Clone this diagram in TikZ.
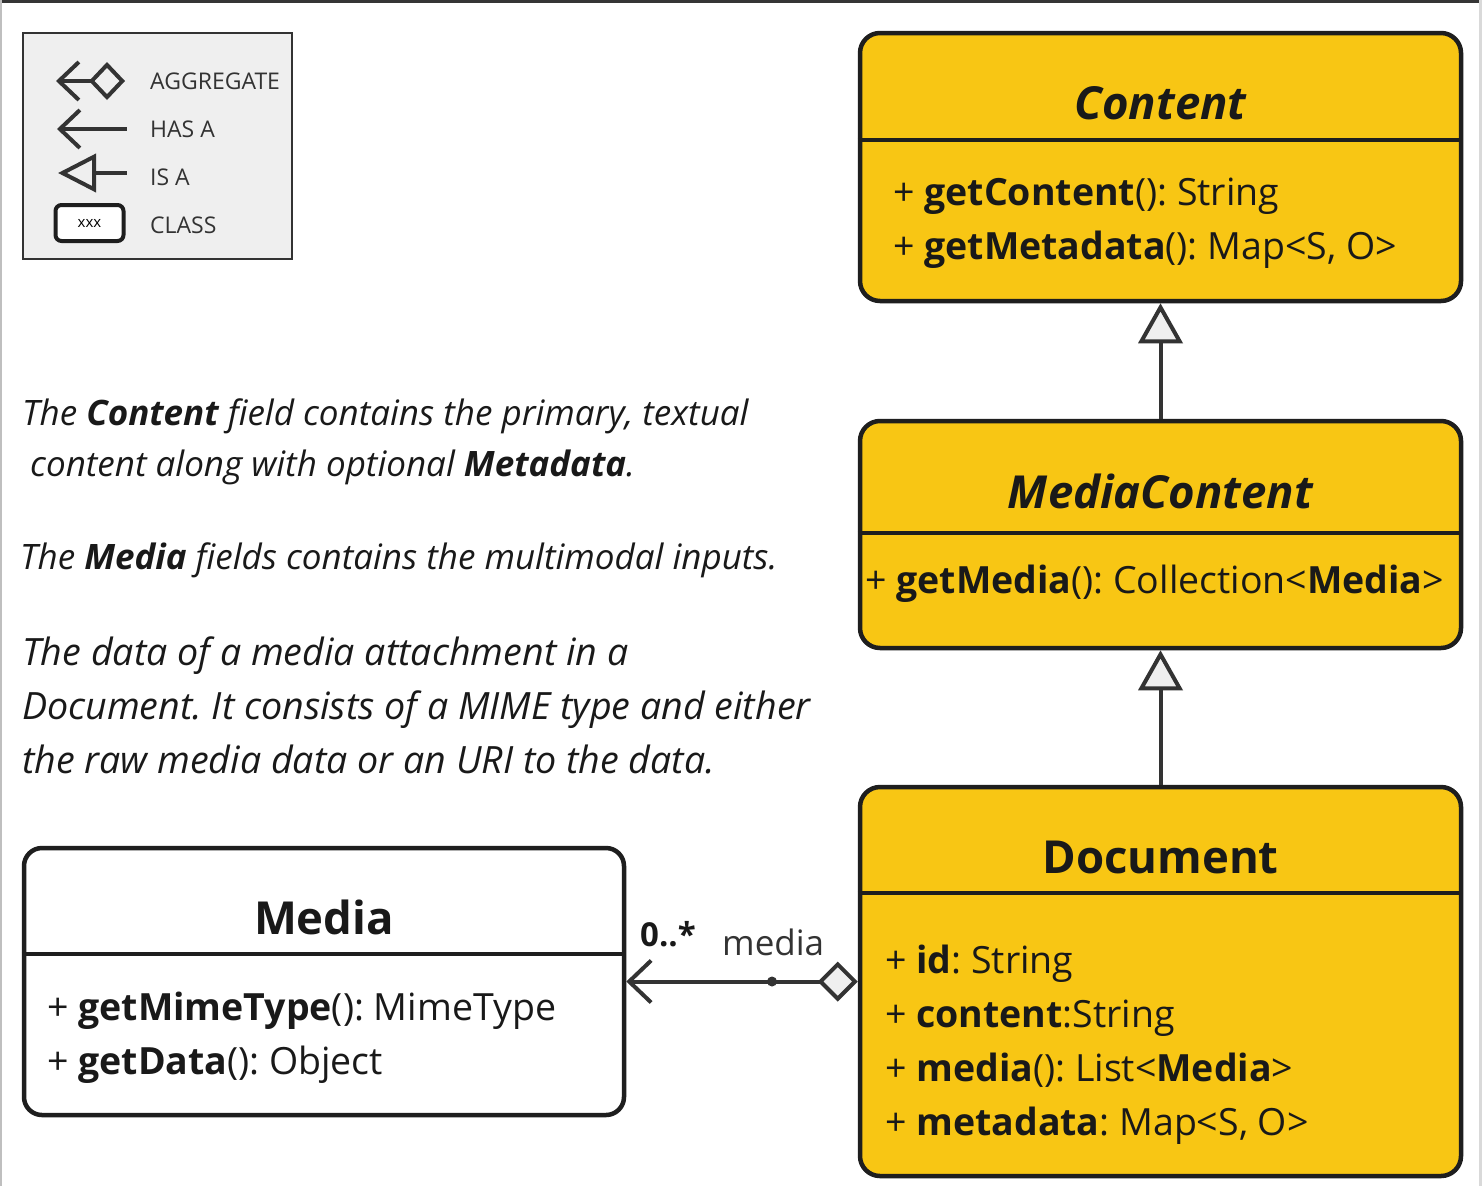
\documentclass[tikz,border=0pt]{standalone}
\usepackage{fontspec}
\setmainfont{Open Sans}
\usetikzlibrary{arrows.meta}
\definecolor{yel}{RGB}{248,198,20}
\definecolor{ink}{RGB}{30,30,30}
\definecolor{lnk}{RGB}{51,51,51}
\definecolor{lg}{RGB}{239,239,239}
\definecolor{txt}{RGB}{25,25,25}
\frenchspacing
\begin{document}
\frenchspacing
\begin{tikzpicture}[x=1pt,y=-1pt,
  classbox/.style={draw=ink, line width=4.5pt, rounded corners=20pt, fill=yel, inner sep=0},
  divider/.style={draw=ink, line width=4.5pt},
  ttl/.style={font=\fontsize{45.5}{52}\selectfont\bfseries, text=txt, anchor=base, inner sep=0},
  mem/.style={font=\fontsize{37.5}{43}\selectfont, text=txt, anchor=base west, inner sep=0},
  para/.style={font=\fontsize{35}{42}\selectfont\itshape, text=txt, anchor=base west, inner sep=0},
  parb/.style={font=\fontsize{37.6}{44}\selectfont\itshape, text=txt, anchor=base west, inner sep=0},
  leg/.style={font=\fontsize{23}{27}\selectfont, text=lnk, anchor=base west, inner sep=0},
  legline/.style={draw=lnk, line width=4pt},
  isa/.style={draw=lnk, line width=4pt, -{Triangle[length=40pt,width=44pt,fill=lg]}},
  agg/.style={draw=lnk, line width=4pt, {Straight Barb[length=22pt,width=42pt]}-{Diamond[length=40pt,width=40pt,fill=lg]}},
  dot/.style={circle, fill=lnk, inner sep=0, minimum size=10pt}
]
\useasboundingbox (0,0) rectangle (1482,1186);
\fill[white] (0,0) rectangle (1482,1186);
\fill[ink!90] (0,0) rectangle (1482,3);
\fill[gray!50] (0,0) rectangle (2,1186);
\fill[gray!30] (1479,0) rectangle (1482,1186);

% legend
\node[draw=lnk, line width=2pt, fill=lg, minimum width=269pt, minimum height=226pt, inner sep=0] (legend) at (157.5,146) {};
\coordinate (la1) at (56,81); \coordinate (la2) at (125,81);
\draw[legline, {Straight Barb[length=20pt,width=38pt]}-{Diamond[length=36pt,width=38pt,fill=lg]}] (la1) -- (la2);
\coordinate (lh1) at (57,129); \coordinate (lh2) at (127,129);
\draw[legline, {Straight Barb[length=20pt,width=38pt]}-] (lh1) -- (lh2);
\coordinate (li1) at (58,173); \coordinate (li2) at (127,173);
\draw[legline, {Triangle[length=38pt,width=38pt,fill=lg]}-] (li1) -- (li2);
\node[draw=ink, line width=4pt, rounded corners=6pt, fill=white, minimum width=68pt, minimum height=36pt, inner sep=0, font=\fontsize{15}{18}\selectfont] (lc) at (89.5,223) {xxx};
\node[leg] (lt1) at (150,89) {AGGREGATE};
\node[leg] (lt2) at (150,137) {HAS A};
\node[leg] (lt3) at (150,185) {IS A};
\node[leg] (lt4) at (150,233) {CLASS};

% paragraphs
\node[para] (p1) at (22,425) {The \textbf{Content} field contains the primary, textual};
\node[para] (p2) at (30,476) {content along with optional \textbf{Metadata}.};
\node[para] (p3) at (20,569) {The \textbf{Media} fields contains the multimodal inputs.};
\node[parb] (p4) at (22,665) {The data of a media attachment in a};
\node[parb] (p5) at (22,719) {Document. It consists of a MIME type and either};
\node[parb] (p6) at (22,773) {the raw media data or an URI to the data.};

% Content
\node[classbox, minimum width=601pt, minimum height=268pt] (content) at (1160.5,167) {};
\draw[divider] (content.west |- 0,140) -- (content.east |- 0,140);
\node[ttl, font=\fontsize{45.5}{52}\selectfont\bfseries\itshape] (contentT) at (1160.5,119) {Content};
\node[mem] (c1) at (893,205) {+ \textbf{getContent}(): String};
\node[mem] (c2) at (893,259) {+ \textbf{getMetadata}(): Map<S, O>};

% MediaContent
\node[classbox, minimum width=601pt, minimum height=227pt] (mediacontent) at (1160.5,534.5) {};
\draw[divider] (mediacontent.west |- 0,533) -- (mediacontent.east |- 0,533);
\node[ttl, font=\fontsize{45.5}{52}\selectfont\bfseries\itshape] (mcT) at (1160.5,508) {MediaContent};
\node[mem] (mc1) at (865,593) {+ \textbf{getMedia}(): Collection<\textbf{Media}>};

% Document
\node[classbox, minimum width=601pt, minimum height=389pt] (document) at (1160.5,981.5) {};
\draw[divider] (document.west |- 0,893) -- (document.east |- 0,893);
\node[ttl] (docT) at (1160.5,873) {Document};
\node[mem] (d1) at (885,973) {+ \textbf{id}: String};
\node[mem] (d2) at (885,1027) {+ \textbf{content}:String};
\node[mem] (d3) at (885,1081) {+ \textbf{media}(): List<\textbf{Media}>};
\node[mem] (d4) at (885,1135) {+ \textbf{metadata}: Map<S, O>};

% Media
\node[classbox, fill=white, rounded corners=18pt, minimum width=600pt, minimum height=267pt] (media) at (324,981.5) {};
\draw[divider] (media.west |- 0,954) -- (media.east |- 0,954);
\node[ttl] (mT) at (324,934) {Media};
\node[mem] (m1) at (47,1020) {+ \textbf{getMimeType}(): MimeType};
\node[mem] (m2) at (47,1074) {+ \textbf{getData}(): Object};

% connectors
\draw[isa] (mediacontent.north) -- (content.south);
\draw[isa] (document.north) -- (mediacontent.south);
\draw[agg] (media.east) -- (document.west);
\node[dot] (aggdot) at (772,981.5) {};
\node[font=\fontsize{33}{40}\selectfont\bfseries, text=txt, anchor=base west, inner sep=0] (mult) at (640,946) {0..*};
\node[font=\fontsize{35}{42}\selectfont, text=lnk, anchor=base west, inner sep=0] (role) at (722,955) {media};
\end{tikzpicture}
\end{document}
